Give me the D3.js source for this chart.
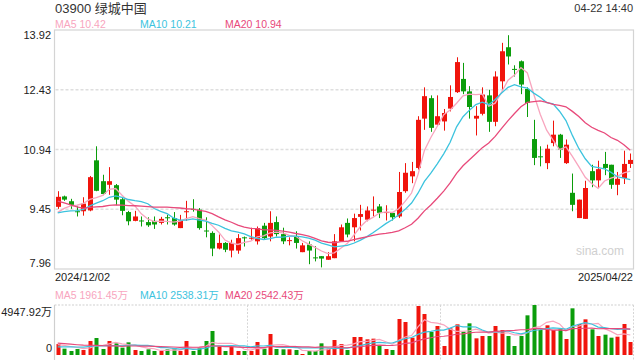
<!DOCTYPE html>
<html>
<head>
<meta charset="utf-8">
<script src="https://cdn.jsdelivr.net/npm/d3@7"></script>
<style>
  body { margin: 0; background: #fff; }
  svg { display: block; font-family: "Liberation Sans", Arial, "Noto Sans CJK SC", sans-serif; }
</style>
</head>
<body>
<svg id="chart" width="640" height="360"></svg>
<script>
// header texts and tick labels
const stockName = "03900 绿城中国";
const timeLabel = "04-22 14:40";
const dateLabels = ["2024/12/02", "2025/04/22"];
const priceTicks = [13.92, 12.43, 10.94, 9.45, 7.96];
const volumeTicks = [4947.92, 0];
const maLabels = ["MA5 10.42", "MA10 10.21", "MA20 10.94"];
const volMaLabels = ["MA5 1961.45万", "MA10 2538.31万", "MA20 2542.43万"];

// daily candles
const open  = [9.51,9.77,9.65,9.40,9.40,9.42,10.67,10.15,10.06,10.05,9.70,9.38,9.16,9.17,9.13,9.16,9.11,9.25,9.23,8.98,
               9.39,9.46,9.44,8.92,8.86,8.47,8.61,8.42,8.42,8.75,8.73,8.65,9.04,8.77,9.13,8.83,8.67,8.77,8.38,8.57,
               8.25,8.28,8.19,8.23,8.65,9.11,9.00,9.26,9.19,9.43,9.52,9.37,9.36,9.27,9.90,10.27,10.48,11.71,12.22,11.56,
               11.64,11.96,12.37,12.70,12.39,11.71,11.83,12.29,11.63,12.64,13.49,12.95,13.14,12.45,11.20,10.77,10.60,11.10,11.31,10.60,
               9.86,9.23,9.21,10.40,10.17,10.58,10.56,10.06,10.23,10.58];
const high  = [9.90,9.79,9.71,9.52,9.75,10.28,11.02,10.31,10.50,10.08,9.73,9.41,9.41,9.27,9.25,9.27,9.26,9.31,9.38,9.31,
               9.66,9.70,9.48,9.25,8.90,8.82,8.63,8.69,8.83,8.77,8.99,9.02,9.11,9.40,9.27,8.99,8.75,8.90,8.61,8.65,
               8.53,8.28,8.38,8.83,9.07,9.22,9.34,9.56,9.52,9.77,9.58,9.55,9.38,10.38,10.60,10.63,11.77,12.49,12.29,12.29,
               11.95,12.54,13.24,13.10,12.52,12.02,12.49,12.43,12.89,13.60,13.79,13.04,13.16,12.49,11.68,11.02,11.06,11.66,11.33,11.19,
               10.34,9.69,10.16,10.56,10.66,10.88,10.56,10.38,10.91,10.84];
const low   = [9.46,9.66,9.46,9.27,9.29,9.40,9.90,9.80,9.81,9.55,9.30,9.05,9.15,9.02,9.01,8.96,9.07,9.07,9.04,8.98,
               9.16,9.39,8.94,8.75,8.28,8.45,8.38,8.25,8.34,8.52,8.69,8.57,8.69,8.65,8.77,8.58,8.55,8.47,8.38,8.08,
               8.15,8.00,8.19,8.23,8.65,8.75,8.65,8.92,9.15,9.27,9.23,9.17,9.17,9.23,9.86,10.10,10.44,11.43,11.38,11.54,
               11.41,11.89,12.35,12.32,11.71,11.29,11.79,11.38,11.52,12.43,13.06,12.76,12.32,11.75,10.55,10.52,10.45,11.02,10.73,10.58,
               9.40,9.23,9.21,10.00,9.98,10.30,9.96,9.80,10.08,10.48];
const close = [9.76,9.69,9.56,9.39,9.59,10.25,9.91,9.83,10.15,9.69,9.41,9.15,9.27,9.16,9.05,9.07,9.21,9.24,9.07,9.17,
               9.40,9.45,8.98,8.91,8.47,8.61,8.44,8.61,8.73,8.74,8.74,8.98,8.73,9.11,8.83,8.65,8.68,8.61,8.55,8.42,
               8.24,8.22,8.28,8.65,9.00,8.82,9.23,9.33,9.42,9.44,9.36,9.38,9.25,9.88,10.36,10.40,11.68,12.27,11.48,11.77,
               11.85,12.25,13.12,12.39,12.00,11.78,12.31,11.63,12.76,13.39,13.26,12.94,12.56,12.10,10.73,10.76,10.96,11.31,10.94,11.06,
               9.56,9.69,9.98,10.17,10.45,10.48,10.06,10.21,10.58,10.68];
// volume in 万
const volume = [1089,627,396,594,495,1385,1682,594,1385,1155,726,1253,495,396,561,396,396,561,660,396,
                1385,396,726,1385,2375,825,396,825,396,396,396,1286,627,2078,594,561,561,495,99,396,
                396,1155,627,1484,1089,495,1781,1781,1550,1616,990,594,495,3562,3266,1715,4849,4057,2276,2870,
                891,2639,3035,2309,3134,1649,1880,1880,2870,2474,1880,891,1880,3925,4948,2474,2936,2474,2540,1583,
                4618,3068,3530,2540,1880,2012,1715,1814,3068,1286];
// sessions before the window (estimated from where the MA lines start)
const priorClose = [10.55,10.50,10.40,10.35,9.75,9.70,9.60,9.55,9.50,9.50,9.40,9.35,9.35,9.30,9.35,9.20,9.25,9.30,9.35];
const priorVolume = [1600,1500,1700,1400,1500,1800,1300,1600,1500,1500,600,500,700,550,650,1000,900,1100,1000];

const maColors = ["#f8a5be", "#3cc3de", "#e84a7b"];
const upColor = "#f0140c", downColor = "#0b9d0b";

const svg = d3.select("#chart");
const left = 54.5, right = 633.5;

const x = d3.scaleBand()
    .domain(d3.range(close.length))
    .range([left, right])
    .paddingInner(0.2)
    .paddingOuter(0.1);
const cx = i => x(i) + x.bandwidth() / 2;

const y = d3.scaleLinear().domain([7.96, 13.92]).range([269, 30]);
const yv = d3.scaleLinear().domain([0, 4947.92]).range([355, 305]);

function movingAvg(prior, values, n) {
    const all = prior.concat(values);
    return values.map((_, i) => d3.mean(all.slice(i + prior.length - n + 1, i + prior.length + 1)));
}

// header
svg.append("text").attr("x", 55).attr("y", 13).attr("font-size", 13).attr("fill", "#333").text(stockName);
svg.append("text").attr("x", 633).attr("y", 12).attr("font-size", 11).attr("fill", "#333")
    .attr("text-anchor", "end").text(timeLabel);

const maX = [55, 140, 225];
maLabels.forEach((t, i) => {
    svg.append("text").attr("x", maX[i]).attr("y", 28).attr("font-size", 10.5)
        .attr("fill", maColors[i]).text(t);
});

// price panel frame and grid
svg.append("rect").attr("x", left).attr("y", 30).attr("width", right - left).attr("height", 239)
    .attr("fill", "none").attr("stroke", "#d4d4d4").attr("stroke-width", 1.2);

svg.selectAll(".grid").data(priceTicks.slice(1, -1)).enter().append("line")
    .attr("x1", left + 1).attr("x2", right - 1)
    .attr("y1", d => y(d)).attr("y2", d => y(d))
    .attr("stroke", "#dedede").attr("stroke-width", 1.5).attr("stroke-dasharray", "3,2");

svg.selectAll(".ptick").data(priceTicks).enter().append("text")
    .attr("x", 51).attr("text-anchor", "end").attr("font-size", 11).attr("fill", "#222")
    .attr("y", (d, i) => i === 0 ? y(d) + 9 : i === priceTicks.length - 1 ? y(d) - 2 : y(d) + 4)
    .text(d => d.toFixed(2));

svg.append("text").attr("x", 624).attr("y", 255).attr("font-size", 12)
    .attr("text-anchor", "end").attr("fill", "#cfcfcf").text("sina.com");

// candles
const candles = svg.append("g").selectAll("g").data(close).enter().append("g")
    .attr("fill", (d, i) => d >= open[i] ? upColor : downColor)
    .attr("stroke", (d, i) => d >= open[i] ? upColor : downColor);

candles.append("line")
    .attr("x1", (d, i) => Math.round(cx(i)) + 0.5).attr("x2", (d, i) => Math.round(cx(i)) + 0.5)
    .attr("y1", (d, i) => y(high[i])).attr("y2", (d, i) => y(low[i]))
    .attr("stroke-width", 1);

candles.append("rect")
    .attr("stroke", "none")
    .attr("x", (d, i) => Math.round(cx(i)) - 2)
    .attr("width", 5)
    .attr("y", (d, i) => y(Math.max(open[i], d)))
    .attr("height", (d, i) => Math.max(1, Math.abs(y(open[i]) - y(d))));

// price moving averages
const line = d3.line().x((d, i) => cx(i)).y(d => y(d));
[5, 10, 20].forEach((n, k) => {
    svg.append("path").datum(movingAvg(priorClose, close, n))
        .attr("d", line).attr("fill", "none")
        .attr("stroke", maColors[k]).attr("stroke-width", 1.3);
});

// date labels
svg.append("text").attr("x", 55).attr("y", 281).attr("font-size", 11).attr("fill", "#222").text(dateLabels[0]);
svg.append("text").attr("x", 633).attr("y", 281).attr("font-size", 11).attr("fill", "#222")
    .attr("text-anchor", "end").text(dateLabels[1]);

// volume panel
volMaLabels.forEach((t, i) => {
    svg.append("text").attr("x", maX[i]).attr("y", 299).attr("font-size", 10.5)
        .attr("fill", maColors[i]).text(t);
});

svg.append("line").attr("x1", left).attr("x2", right).attr("y1", 305).attr("y2", 305)
    .attr("stroke", "#d0d0d0").attr("stroke-width", 1.2).attr("stroke-dasharray", "2,1.5");
svg.append("line").attr("x1", left).attr("x2", left).attr("y1", 305).attr("y2", 360)
    .attr("stroke", "#cfcfcf").attr("stroke-width", 1.2);
[left + (right - left) / 3, left + 2 * (right - left) / 3, right].forEach(v => {
    svg.append("line").attr("x1", v).attr("x2", v).attr("y1", 305).attr("y2", 360)
        .attr("stroke", "#d6d6d6").attr("stroke-width", 1).attr("stroke-dasharray", "2,1.5");
});

svg.selectAll(".vtick").data(volumeTicks).enter().append("text")
    .attr("x", 52).attr("text-anchor", "end").attr("font-size", 11).attr("fill", "#222")
    .attr("y", (d, i) => i === 0 ? yv(d) + 11 : yv(d) - 3)
    .text(d => d === 0 ? "0" : d.toFixed(2) + "万");

svg.append("g").selectAll("rect").data(volume).enter().append("rect")
    .attr("x", (d, i) => Math.round(cx(i)) - 1.5)
    .attr("width", 4)
    .attr("y", d => yv(d))
    .attr("height", d => yv(0) - yv(d))
    .attr("fill", (d, i) => close[i] >= open[i] ? upColor : downColor);

const vline = d3.line().x((d, i) => cx(i)).y(d => yv(d));
[5, 10, 20].forEach((n, k) => {
    svg.append("path").datum(movingAvg(priorVolume, volume, n))
        .attr("d", vline).attr("fill", "none")
        .attr("stroke", maColors[k]).attr("stroke-width", 1.2);
});
</script>
</body>
</html>
